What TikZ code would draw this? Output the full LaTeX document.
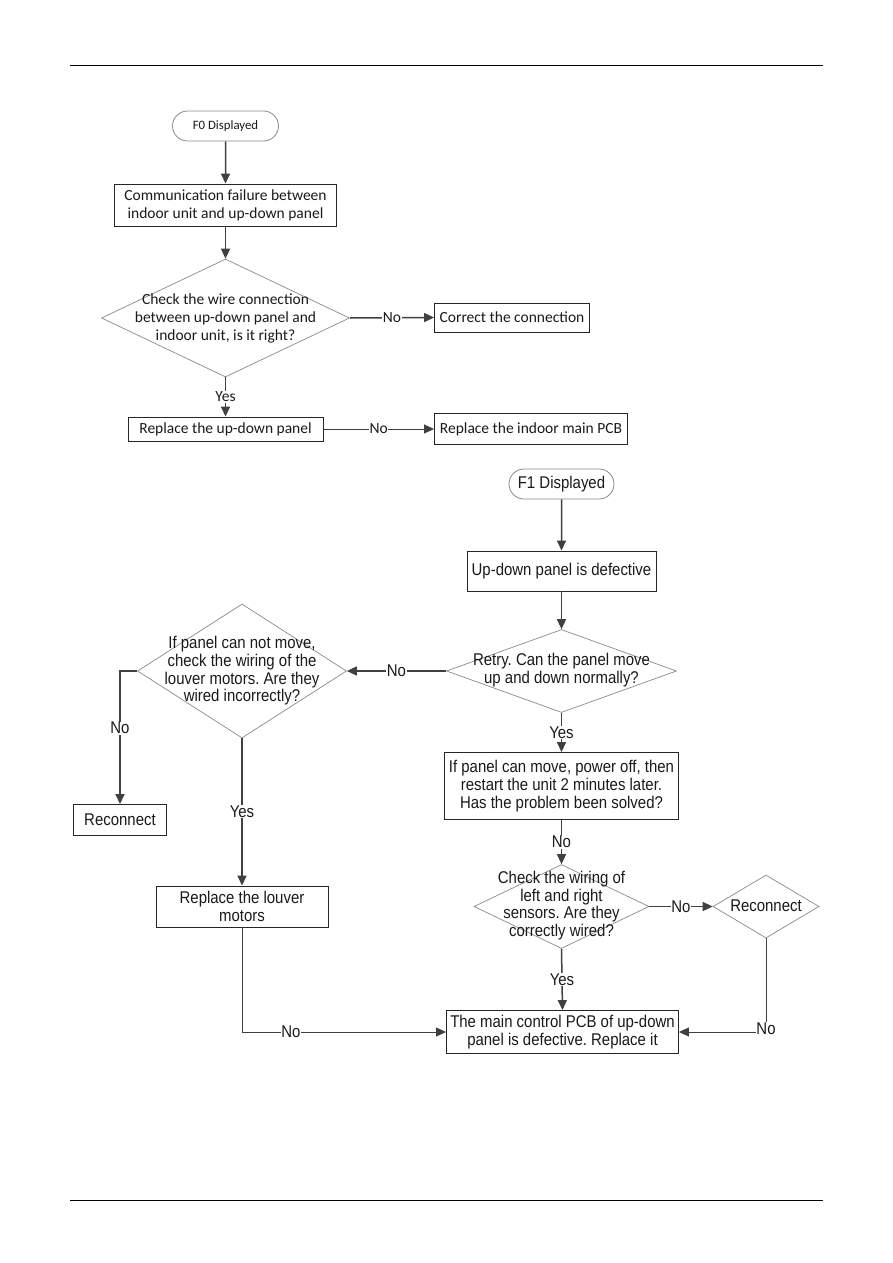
\documentclass[tikz,border=0pt]{standalone}
\usepackage{fontspec}
\usetikzlibrary{shapes.geometric,shapes.misc,arrows.meta}
\newfontfamily\calfont{Carlito}
\newfontfamily\narfont[FakeStretch=0.88]{Liberation Sans}
\definecolor{ln}{HTML}{404040}
\definecolor{dg}{HTML}{8A8A8A}
\definecolor{tx}{HTML}{1A1A1A}
\frenchspacing
\begin{document}
\begin{tikzpicture}[x=1pt,y=-1pt,
  box/.style={draw=black!85,line width=0.9pt,rectangle,inner sep=0pt,align=center,text=tx},
  term/.style={draw=dg,line width=0.8pt,rounded rectangle,inner sep=0pt,text=tx},
  dia/.style={draw=dg,line width=0.7pt,diamond,inner sep=0pt},
  dtext/.style={align=center,inner sep=0pt,text=tx},
  conn/.style={draw=ln,line width=1.5pt,-{Triangle[length=10pt,width=9pt]}},
  thinconn/.style={draw=ln,line width=0.9pt,-{Triangle[length=10pt,width=9pt]}},
  lab/.style={fill=white,inner sep=0.6pt,text=tx},
  topf/.style={font=\calfont\fontsize{15.5}{18}\selectfont},
  botf/.style={font=\narfont\fontsize{17}{17.7}\selectfont}]
\useasboundingbox (0,0) rectangle (893,1263);
\fill[white] (0,0) rectangle (893,1263);
% page rules
\draw[line width=1pt] (70,65.5) coordinate (ra) -- (823,65.5) coordinate (rb);
\draw[line width=1pt] (70,1200) coordinate (rc) -- (823,1200) coordinate (rd);

% ---------- F0 section ----------
\node[term,minimum width=106,minimum height=30,font=\calfont\fontsize{12.8}{14}\selectfont] (f0) at (225.5,126) {F0 Displayed};
\node[box,topf,minimum width=222,minimum height=42] (b1) at (225.5,205) {Communication failure between\\indoor unit and up-down panel};
\node[dia,minimum width=248,minimum height=118] (d1) at (225.5,318) {};
\node[dtext,topf] (d1t) at (225.5,318) {Check the wire connection\\between up-down panel and\\indoor unit, is it right?};
\node[box,topf,minimum width=155,minimum height=29] (c1) at (512,317.5) {Correct the connection};
\node[box,topf,minimum width=195,minimum height=24] (b2) at (225.5,429) {Replace the up-down panel};
\node[box,topf,minimum width=193,minimum height=31] (b3) at (531,429) {Replace the indoor main PCB};

\draw[conn] (f0) -- (b1);
\draw[conn] (b1) -- (d1);
\draw[conn] (d1.east) -- node[lab,topf]{No} (c1.west);
\draw[conn] (d1.south) -- node[lab,topf]{Yes} (b2.north);
\draw[thinconn] (b2.east) -- node[lab,topf]{No} (b3.west);

% ---------- F1 section ----------
\node[term,botf,minimum width=105,minimum height=30] (f1) at (561.5,484) {F1 Displayed};
\node[box,botf,minimum width=189,minimum height=40] (u1) at (561.5,571) {Up-down panel is defective};
\node[dia,minimum width=230,minimum height=83] (d2) at (561.5,671) {};
\node[dtext,botf] (d2t) at (561.5,670) {Retry. Can the panel move\\up and down normally?};
\node[dia,minimum width=209,minimum height=134] (d3) at (242,671) {};
\node[dtext,botf] (d3t) at (242,671) {If panel can not move,\\check the wiring of the\\louver motors. Are they\\wired incorrectly?};
\node[box,botf,minimum width=93,minimum height=31] (r1) at (120,820) {Reconnect};
\node[box,botf,minimum width=172,minimum height=41] (lv) at (242,906.5) {Replace the louver\\motors};
\node[box,botf,minimum width=234,minimum height=67] (p1) at (561.5,786) {If panel can move, power off, then\\restart the unit 2 minutes later.\\Has the problem been solved?};
\node[dia,minimum width=175,minimum height=84] (d4) at (561.5,906.5) {};
\node[dtext,botf] (d4t) at (561.5,905.5) {Check the wiring of\\left and right\\sensors. Are they\\correctly wired?};
\node[dia,minimum width=106,minimum height=63] (d5) at (766,906.5) {};
\node[dtext,botf] (d5t) at (766,906) {Reconnect};
\node[box,botf,minimum width=232,minimum height=43] (fb) at (562.5,1032) {The main control PCB of up-down\\panel is defective. Replace it};

\coordinate (k1) at (120,671);
\coordinate (k2) at (lv.south |- fb.west);
\coordinate (k3) at (d5.south |- fb.east);

\draw[conn] (f1) -- (u1);
\draw[conn] (u1) -- (d2);
\draw[conn] (d2.west) -- node[lab,botf]{No} (d3.east);
\draw[conn] (d3.west) -- (k1) -- node[lab,botf,pos=0.43]{No} (r1.north);
\draw[conn] (d3.south) -- node[lab,botf]{Yes} (lv.north);
\draw[conn] (d2.south) -- node[lab,botf]{Yes} (p1.north);
\draw[conn] (p1.south) -- node[lab,botf]{No} (d4.north);
\draw[conn] (d4.east) -- node[lab,botf]{No} (d5.west);
\draw[conn] (d4.south) -- node[lab,botf]{Yes} (fb.north);
\draw[thinconn] (lv.south) -- (k2) -- node[lab,botf,pos=0.24]{No} (fb.west);
\draw[thinconn] (d5.south) -- node[lab,botf,pos=0.96]{No} (k3) -- (fb.east);
\end{tikzpicture}
\end{document}
